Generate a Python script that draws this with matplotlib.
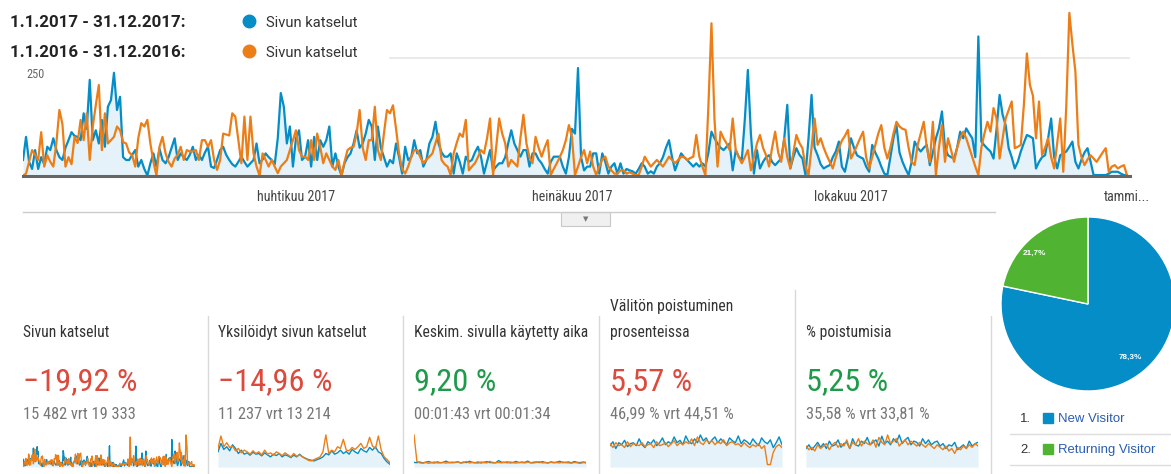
import numpy as np
import matplotlib
matplotlib.use('Agg')
import matplotlib.pyplot as plt
from matplotlib import font_manager as fm
from matplotlib.lines import Line2D
from matplotlib.patches import Rectangle

# ---- data: daily page views, 1.1.-31.12. (2017 blue, 2016 orange) ----
views_2017 = [
    34, 83, 30, 15, 55, 15, 40, 25, 62, 55,
    80, 55, 40, 34, 60, 76, 93, 85, 83, 76,
    133, 100, 204, 76, 97, 69, 119, 62, 147, 161,
    219, 140, 168, 40, 34, 34, 45, 55, 20, 34,
    15, 1, 27, 48, 20, 58, 34, 27, 40, 60,
    80, 34, 48, 40, 34, 45, 62, 34, 45, 34,
    50, 62, 20, 17, 35, 55, 62, 45, 34, 25,
    20, 30, 41, 30, 20, 27, 34, 69, 27, 35,
    48, 40, 34, 25, 80, 176, 147, 69, 105, 20,
    80, 97, 34, 41, 76, 20, 83, 34, 76, 62,
    76, 105, 20, 48, 20, 1, 27, 40, 48, 69,
    97, 60, 69, 90, 119, 105, 34, 105, 60, 40,
    20, 34, 27, 69, 40, 5, 62, 34, 40, 76,
    48, 55, 20, 34, 69, 83, 115, 69, 50, 41,
    41, 48, 5, 48, 30, 5, 41, 30, 34, 50,
    62, 41, 5, 30, 55, 12, 20, 27, 27, 40,
    70, 97, 69, 55, 41, 55, 55, 20, 48, 48,
    35, 27, 15, 5, 30, 41, 41, 41, 20, 5,
    40, 100, 90, 229, 40, 12, 20, 20, 48, 48,
    5, 48, 30, 5, 20, 27, 5, 27, 5, 15,
    12, 10, 5, 15, 27, 20, 5, 10, 5, 20,
    27, 40, 60, 76, 40, 12, 30, 48, 40, 34,
    27, 20, 27, 20, 27, 20, 50, 94, 80, 69,
    60, 55, 62, 69, 12, 55, 41, 34, 120, 225,
    90, 5, 55, 16, 30, 40, 44, 30, 23, 30,
    37, 80, 151, 16, 40, 59, 45, 37, 2, 80,
    172, 60, 44, 25, 16, 20, 23, 40, 52, 73,
    20, 9, 40, 80, 60, 44, 40, 37, 20, 9,
    66, 50, 37, 20, 5, 2, 40, 80, 108, 50,
    30, 15, 2, 30, 73, 60, 52, 60, 66, 23,
    50, 80, 101, 137, 60, 44, 40, 37, 60, 94,
    80, 101, 90, 80, 40, 296, 73, 65, 58, 52,
    37, 100, 172, 130, 108, 59, 40, 16, 30, 52,
    70, 87, 84, 80, 16, 30, 40, 44, 80, 122,
    40, 16, 44, 48, 52, 62, 73, 30, 16, 35,
    50, 59, 30, 2, 2, 2, 2, 2, 5, 9,
    9, 9, 5, 2, 2,
]
views_2016 = [
    1, 5, 30, 55, 45, 34, 93, 20, 44, 30,
    20, 70, 140, 110, 20, 40, 25, 83, 70, 119,
    76, 133, 34, 105, 150, 193, 55, 133, 69, 76,
    83, 105, 97, 72, 69, 50, 44, 20, 80, 112,
    105, 119, 69, 30, 1, 62, 83, 48, 30, 20,
    37, 45, 62, 34, 55, 52, 52, 55, 34, 76,
    76, 62, 76, 34, 13, 34, 90, 88, 86, 133,
    126, 76, 27, 126, 34, 126, 48, 20, 1, 48,
    34, 20, 34, 20, 6, 20, 27, 34, 55, 76,
    97, 55, 41, 41, 34, 76, 34, 90, 62, 27,
    48, 34, 20, 13, 34, 1, 30, 55, 60, 62,
    90, 140, 60, 34, 76, 76, 147, 55, 34, 90,
    140, 133, 150, 100, 48, 15, 5, 20, 40, 55,
    55, 40, 27, 35, 41, 48, 70, 90, 34, 25,
    20, 2, 48, 70, 90, 83, 119, 12, 20, 27,
    40, 55, 48, 80, 122, 2, 60, 122, 90, 69,
    20, 34, 27, 20, 80, 130, 69, 40, 27, 83,
    60, 41, 60, 76, 2, 15, 27, 40, 55, 76,
    108, 83, 2, 20, 40, 55, 27, 52, 20, 2,
    20, 35, 41, 20, 12, 5, 5, 12, 12, 5,
    8, 5, 2, 2, 20, 41, 30, 20, 27, 34,
    27, 20, 30, 41, 34, 27, 34, 41, 40, 34,
    38, 41, 87, 41, 20, 2, 150, 324, 120, 20,
    94, 80, 69, 55, 122, 55, 40, 27, 40, 55,
    12, 40, 69, 87, 60, 44, 20, 60, 94, 50,
    30, 80, 40, 16, 50, 87, 70, 59, 20, 2,
    60, 122, 66, 80, 60, 44, 30, 16, 40, 59,
    75, 85, 98, 37, 50, 65, 80, 94, 40, 16,
    40, 65, 90, 108, 60, 37, 60, 90, 115, 105,
    100, 98, 60, 30, 23, 66, 90, 115, 60, 30,
    115, 2, 60, 108, 30, 80, 55, 30, 60, 80,
    94, 80, 60, 40, 20, 2, 60, 90, 115, 94,
    144, 122, 37, 80, 122, 140, 158, 59, 62, 66,
    150, 260, 193, 170, 80, 158, 44, 60, 80, 40,
    16, 70, 122, 9, 150, 346, 280, 221, 66, 40,
    23, 35, 44, 37, 30, 40, 50, 59, 9, 20,
    23, 16, 20, 23, 2,
]
month_days = [90, 181, 273, 364]
month_labels = ['huhtikuu 2017', 'heinäkuu 2017', 'lokakuu 2017', 'tammi...']

# ---- sparkline data (sampled through the year) ----
unique_2017 = [45, 70, 52, 60, 48, 66, 55, 40, 50, 38, 42, 35, 44, 38, 40, 33, 42, 36, 30, 38,
               34, 40, 30, 36, 33, 28, 35, 30, 38, 30, 26, 22, 20, 18, 22, 25, 30, 40, 36, 48,
               38, 42, 50, 40, 46, 38, 52, 45, 40, 55, 48, 44, 58, 50, 60, 45, 40, 25, 15, 8]
unique_2016 = [55, 92, 60, 72, 58, 62, 48, 55, 42, 50, 45, 38, 48, 40, 45, 36, 50, 38, 42, 35,
               45, 40, 34, 42, 36, 30, 40, 32, 36, 30, 25, 20, 18, 22, 26, 30, 45, 95, 40, 50,
               45, 60, 55, 82, 50, 48, 58, 52, 60, 70, 55, 60, 88, 62, 55, 92, 50, 30, 22, 12]
time_2017 = [100, 95, 110, 90, 105, 120, 98, 88, 112, 95, 100, 130, 92, 105, 99, 115, 90, 108, 96, 125,
             100, 94, 110, 88, 104, 118, 96, 100, 92, 140, 105, 98, 112, 90, 100, 122, 95, 108, 99, 130,
             92, 104, 110, 96, 118, 100, 90, 112, 98, 106, 125, 95, 102, 110, 92, 120, 100, 96, 108, 100]
time_2016 = [700, 120, 90, 85, 100, 80, 95, 110, 88, 92, 100, 85, 105, 90, 98, 115, 86, 94, 120, 88,
             100, 92, 84, 110, 96, 90, 125, 88, 95, 100, 90, 105, 88, 112, 94, 86, 100, 96, 90, 108,
             92, 88, 100, 115, 90, 95, 86, 104, 92, 98, 88, 110, 94, 90, 85, 100, 92, 80, 96, 88]
bounce_2017 = [44, 52, 38, 50, 46, 55, 42, 48, 50, 44, 58, 46, 40, 52, 48, 56, 44, 50, 60, 46,
               52, 48, 62, 50, 55, 46, 64, 52, 48, 58, 50, 66, 54, 60, 48, 56, 62, 50, 58, 52,
               46, 60, 54, 50, 64, 48, 56, 52, 46, 58, 50, 44, 60, 52, 48, 56, 40, 50, 62, 46]
bounce_2016 = [48, 40, 50, 44, 46, 40, 52, 42, 48, 46, 44, 50, 42, 46, 48, 40, 52, 44, 46, 50,
               42, 48, 54, 44, 50, 46, 52, 48, 58, 44, 62, 50, 46, 56, 50, 54, 46, 52, 48, 56,
               44, 50, 52, 46, 48, 42, 50, 44, 40, 46, 42, 48, 38, 44, 5, 5, 30, 42, 46, 40]
exit_2017 = [30, 36, 28, 34, 40, 32, 38, 30, 42, 34, 36, 44, 32, 38, 40, 30, 46, 36, 34, 42,
             38, 48, 36, 40, 44, 34, 50, 38, 42, 36, 46, 40, 52, 38, 44, 48, 36, 42, 40, 34,
             46, 38, 44, 36, 40, 42, 34, 38, 30, 36, 34, 40, 28, 32, 36, 30, 42, 34, 38, 40]
exit_2016 = [34, 28, 32, 26, 36, 30, 34, 38, 28, 36, 40, 32, 38, 34, 44, 30, 40, 36, 46, 34,
             42, 38, 36, 44, 32, 48, 40, 36, 52, 38, 42, 46, 34, 40, 44, 36, 42, 38, 34, 40,
             36, 32, 38, 34, 30, 36, 32, 28, 34, 26, 30, 22, 32, 28, 34, 30, 36, 32, 38, 34]

titles = ['Sivun katselut', 'Yksilöidyt sivun katselut', 'Keskim. sivulla käytetty aika',
          'Välitön poistuminen\nprosenteissa', '% poistumisia']
changes = ['−19,92 %', '−14,96 %', '9,20 %', '5,57 %', '5,25 %']
change_up = [False, False, True, False, True]
compares = ['15 482 vrt 19 333', '11 237 vrt 13 214', '00:01:43 vrt 00:01:34',
            '46,99 % vrt 44,51 %', '35,58 % vrt 33,81 %']

visitor_types = ['New Visitor', 'Returning Visitor']
visitor_share = [78.3, 21.7]

BLUE = '#058dc7'
ORANGE = '#ed7e17'
GREEN_PIE = '#50b432'
FILL = '#e5f2f9'
RED = '#dc4a3d'
GREEN = '#1f9a4a'

W, H = 1171, 474
plt.rcParams['font.family'] = ['Roboto', 'DejaVu Sans']

names = {f.name for f in fm.fontManager.ttflist}
NARROW = 'Roboto'
for cand in ['Roboto Condensed', 'Liberation Sans Narrow', 'Arial Narrow']:
    if cand in names:
        NARROW = cand
        break

fig = plt.figure(figsize=(W / 100, H / 100), dpi=100)
renderer = fig.canvas.get_renderer()


def fx(x):
    return x / W


def fy(y):
    return 1 - y / H


def size_for(s, target, **kw):
    # font size that makes text s about `target` pixels wide
    t = fig.text(0, 0, s, fontsize=10, **kw)
    w = t.get_window_extent(renderer).width
    t.remove()
    return 10 * target / w


# ---- main line chart ----
ax = fig.add_axes([fx(23), fy(176), 1107 / W, 165 / H])
x = np.arange(len(views_2017))
ax.fill_between(x, views_2017, 0, color=FILL, lw=0)
ax.plot(x, views_2017, color=BLUE, lw=1.6)
ax.plot(np.arange(len(views_2016)), views_2016, color=ORANGE, lw=1.6)
ax.axhline(250, xmin=(390 - 23) / 1107, color='#e6e6e6', lw=1.2, zorder=0)
ax.axhline(0, color='#666666', lw=2.2, clip_on=False)
ax.set_xlim(0, 365)
ax.set_ylim(0, 350)
for s in ax.spines.values():
    s.set_visible(False)
ax.set_yticks([])
ax.set_xticks(month_days)
msize = size_for('huhtikuu 2017', 78, family=NARROW)
ax.set_xticklabels(month_labels, family=NARROW, fontsize=msize, color='#444444')
ax.tick_params(axis='x', length=0, pad=10)
fig.text(fx(26), fy(78), '250', family=NARROW, color='#666666',
         fontsize=size_for('250', 18, family=NARROW))

# legend
lsize = size_for('1.1.2017 - 31.12.2017:', 175, fontweight='bold')
for row, (period, col) in enumerate([('1.1.2017 - 31.12.2017:', BLUE),
                                     ('1.1.2016 - 31.12.2016:', ORANGE)]):
    yb = 27 + 30 * row
    fig.text(fx(10), fy(yb), period, fontweight='bold', fontsize=lsize, color='#222222')
    fig.add_artist(Line2D([fx(249)], [fy(yb - 6)], marker='o', ms=9, color=col,
                          transform=fig.transFigure))
    fig.text(fx(266), fy(yb), 'Sivun katselut', color='#333333',
             fontsize=size_for('Sivun katselut', 92))

# separator under the chart with the small toggle
fig.add_artist(Line2D([fx(23), fx(995)], [fy(212), fy(212)], color='#cccccc', lw=1))
fig.add_artist(Rectangle((fx(561), fy(226)), 49 / W, 14 / H, transform=fig.transFigure,
                         facecolor='#f0f0f0', edgecolor='#c8c8c8', lw=0.8))
fig.text(fx(585.5), fy(219), '▼', ha='center', va='center', fontsize=5, color='#777777',
         family='DejaVu Sans')

# ---- metric panels ----
panel_x = [23, 218, 414, 610, 806]
tsize = size_for(titles[0], 86, family=NARROW)
bsize = size_for(changes[0], 114, family=NARROW)
csize = size_for(compares[0], 112, family=NARROW)
sparks = [(views_2017, views_2016), (unique_2017, unique_2016), (time_2017, time_2016),
          (bounce_2017, bounce_2016), (exit_2017, exit_2016)]
for i, px in enumerate(panel_x):
    lines = titles[i].split('\n')
    for j, line in enumerate(lines):
        yb = 337 - 26 * (len(lines) - 1 - j)
        fig.text(fx(px), fy(yb), line, family=NARROW, fontsize=tsize, color='#333333')
    fig.text(fx(px), fy(390), changes[i], family=NARROW, fontsize=bsize,
             color=GREEN if change_up[i] else RED)
    fig.text(fx(px), fy(419), compares[i], family=NARROW, fontsize=csize, color='#777777')

    cur, prev = sparks[i]
    sax = fig.add_axes([fx(px), fy(467), 172 / W, 33 / H])
    xs = np.arange(len(cur))
    sax.fill_between(xs, cur, 0, color=FILL, lw=0)
    sax.plot(xs, cur, color=BLUE, lw=1.0)
    sax.plot(np.arange(len(prev)), prev, color=ORANGE, lw=1.0)
    sax.set_xlim(0, len(cur) - 1)
    sax.set_ylim(0, max(max(cur), max(prev)) * 1.03)
    sax.axis('off')

for sx, top in [(208, 316), (403, 316), (599, 316), (795, 290), (991, 316)]:
    fig.add_artist(Line2D([fx(sx), fx(sx)], [fy(top), fy(474)], color='#d9d9d9', lw=1))

# ---- pie: visitor types ----
pax = fig.add_axes([fx(1001), fy(391), 174 / W, 174 / H])
pax.pie(visitor_share, colors=[BLUE, GREEN_PIE], startangle=90, counterclock=False,
        wedgeprops=dict(edgecolor='white', lw=1))
pax.set_xlim(-1, 1)
pax.set_ylim(-1, 1)
psize = size_for('78,3%', 23, family='Liberation Sans', fontweight='bold')
pax.text(0.49, -0.61, '78,3%', ha='center', va='center', color='white',
         family='Liberation Sans', fontweight='bold', fontsize=psize)
pax.text(-0.62, 0.58, '21,7%', ha='center', va='center', color='white',
         family='Liberation Sans', fontweight='bold', fontsize=psize)

vsize = size_for('New Visitor', 66, family='Liberation Sans')
for k, (name, col) in enumerate(zip(visitor_types, [BLUE, GREEN_PIE])):
    yb = 422 + 31 * k
    fig.text(fx(1020), fy(yb), f'{k + 1}.', family='Liberation Sans', fontsize=vsize,
             color='#333333')
    fig.add_artist(Line2D([fx(1047.5)], [fy(yb - 4.5)], marker='s', ms=7, color=col,
                          transform=fig.transFigure))
    fig.text(fx(1058), fy(yb), name, family='Liberation Sans', fontsize=vsize,
             color='#2a5db0')
    fig.add_artist(Line2D([fx(1010), fx(1171)], [fy(yb + 12), fy(yb + 12)],
                          color='#dddddd', lw=1))

fig.savefig('out.png', dpi=100)
